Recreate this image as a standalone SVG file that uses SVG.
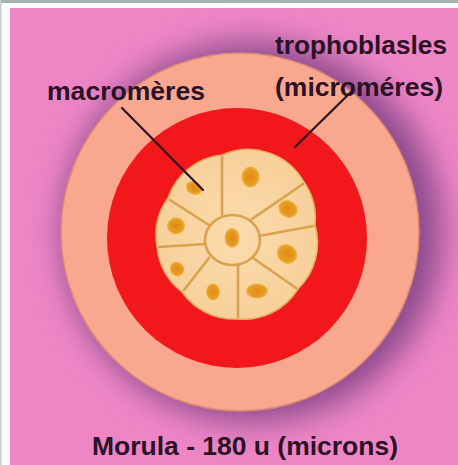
<svg xmlns="http://www.w3.org/2000/svg" width="458" height="465" viewBox="0 0 458 465">
  <style>
    .lbl { font-family: "Liberation Sans", Arial, sans-serif; font-weight: bold; font-size: 26px; fill: #2b1225; }
    .leader { stroke: #2b1225; stroke-width: 2.2; stroke-linecap: round; fill: none; }
    .wall { stroke: #d9a24e; stroke-width: 2.6; fill: none; stroke-linecap: round; }
    .nucleus { fill: url(#nucFill); }
  </style>
  <defs>
    <filter id="halo" x="-30%" y="-30%" width="160%" height="160%">
      <feGaussianBlur stdDeviation="16"/>
    </filter>
    <radialGradient id="nucFill">
      <stop offset="0" stop-color="#e08a12"/>
      <stop offset="0.75" stop-color="#e89c22"/>
      <stop offset="1" stop-color="#f0b54c"/>
    </radialGradient>
    <radialGradient id="cellFill" cx="0.5" cy="0.5" r="0.5">
      <stop offset="0" stop-color="#fbdcae"/>
      <stop offset="1" stop-color="#f7d09a"/>
    </radialGradient>
  </defs>

  <!-- page frame -->
  <rect x="0" y="0" width="458" height="465" fill="#fbfbfb"/>
  <rect x="0" y="0" width="458" height="3" fill="#a9b0b1"/>
  <rect x="0" y="0" width="1.5" height="465" fill="#c4cccc"/>
  <rect x="10" y="8" width="448" height="457" fill="#ee86c6"/>

  <!-- dark halo round the embryo -->
  <circle cx="252" cy="232" r="190" fill="#8a4a8c" filter="url(#halo)"/>

  <!-- zona / outer layer -->
  <g id="zona">
    <circle cx="240" cy="232" r="179" fill="#f9a78f" stroke="#d98a76" stroke-width="1.5"/>
  </g>

  <!-- trophoblast ring -->
  <g id="trophoblast">
    <circle cx="237" cy="238" r="130" fill="#f2171a"/>
  </g>

  <!-- inner cell mass: macromeres -->
  <g id="macromeres">
    <path d="M222,155 A64,64 0 0 1 304,182 A64,64 0 0 1 315,225 A64,64 0 0 1 298,289 A64,64 0 0 1 238,319 A64,64 0 0 1 182,292 A64,64 0 0 1 157,247 A64,64 0 0 1 168,198 A64,64 0 0 1 222,155 Z"
          fill="url(#cellFill)" stroke="#e2b060" stroke-width="1.5"/>
    <ellipse cx="232.5" cy="240" rx="27.5" ry="25" fill="#fbdcae" class="wall"/>
    <line class="wall" x1="222" y1="215" x2="222" y2="157"/>
    <line class="wall" x1="252" y1="219" x2="303" y2="184"/>
    <line class="wall" x1="259" y1="236" x2="313" y2="226"/>
    <line class="wall" x1="253" y1="258" x2="296" y2="288"/>
    <line class="wall" x1="238" y1="265" x2="238" y2="317"/>
    <line class="wall" x1="209" y1="258" x2="184" y2="290"/>
    <line class="wall" x1="205" y1="244" x2="159" y2="247"/>
    <line class="wall" x1="209" y1="225" x2="170" y2="200"/>

    <ellipse class="nucleus" cx="232" cy="238" rx="7.5" ry="10"/>
    <ellipse class="nucleus" cx="250.5" cy="177" rx="9" ry="10.5"/>
    <ellipse class="nucleus" cx="288" cy="209" rx="10" ry="8.5" transform="rotate(30 288 209)"/>
    <ellipse class="nucleus" cx="287" cy="254" rx="10.5" ry="9.5" transform="rotate(40 287 254)"/>
    <ellipse class="nucleus" cx="257" cy="291" rx="11" ry="7.5"/>
    <ellipse class="nucleus" cx="213" cy="292" rx="7" ry="8.5"/>
    <ellipse class="nucleus" cx="177" cy="269" rx="7.5" ry="7" transform="rotate(40 177 269)"/>
    <ellipse class="nucleus" cx="176" cy="226" rx="9" ry="8.5"/>
    <ellipse class="nucleus" cx="194" cy="188" rx="8.5" ry="6.5" transform="rotate(25 194 188)"/>
  </g>

  <!-- leader lines -->
  <g id="connectors">
    <line class="leader" x1="122" y1="108" x2="203" y2="190"/>
    <line class="leader" x1="353" y1="90" x2="295" y2="147"/>
  </g>

  <!-- labels -->
  <g id="label-macromeres">
    <text class="lbl" x="47" y="100" textLength="158" lengthAdjust="spacingAndGlyphs">macromères</text>
  </g>
  <g id="label-trophoblasts">
    <text class="lbl" x="275" y="54" textLength="172" lengthAdjust="spacingAndGlyphs">trophoblasles</text>
    <text class="lbl" x="275" y="96" textLength="168" lengthAdjust="spacingAndGlyphs">(microméres)</text>
  </g>
  <g id="caption">
    <text class="lbl" x="92" y="455" textLength="306" lengthAdjust="spacingAndGlyphs">Morula - 180 u (microns)</text>
  </g>
</svg>
